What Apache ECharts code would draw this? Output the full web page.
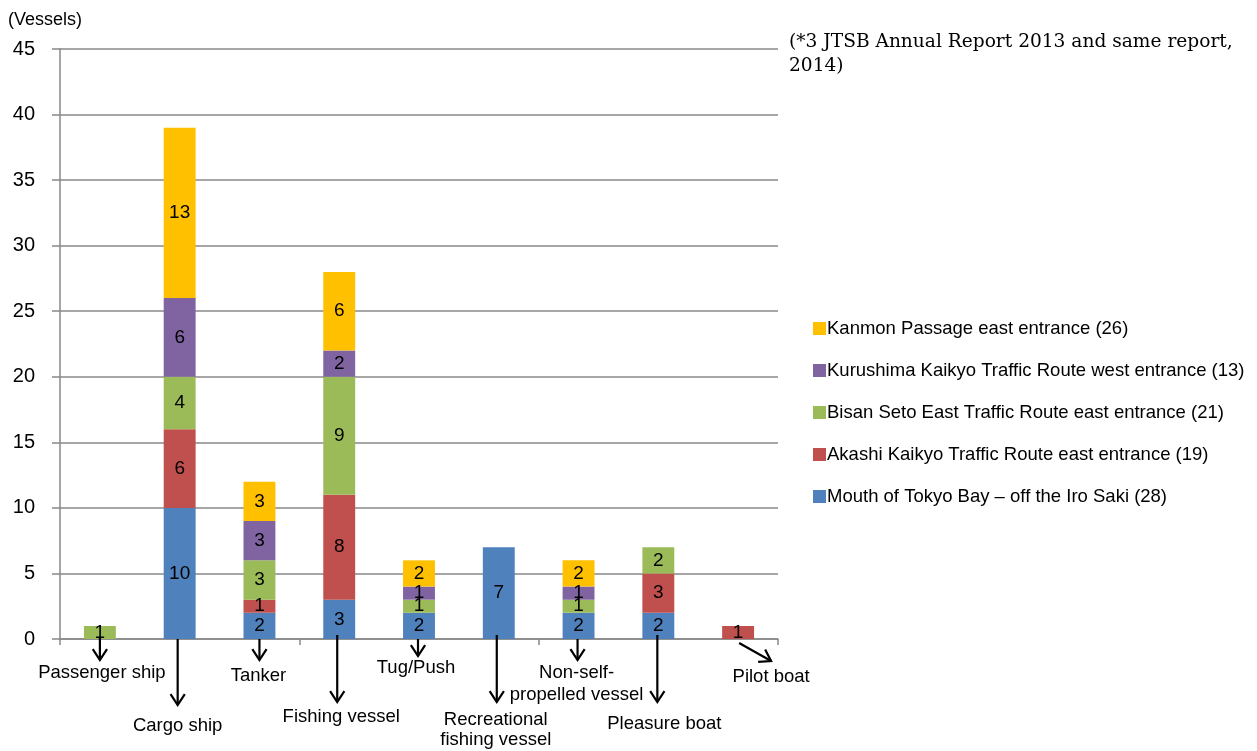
<!DOCTYPE html>
<html>
<head>
<meta charset="utf-8">
<script src="https://cdn.jsdelivr.net/npm/echarts@6/dist/echarts.min.js"></script>
<style>
html,body{margin:0;padding:0;background:#fff;}
#main{width:1257px;height:751px;}
</style>
</head>
<body>
<div id="main"></div>
<script>
// ---- data ----
const categories = ['Passenger ship','Cargo ship','Tanker','Fishing vessel','Tug/Push','Recreational fishing vessel','Non-self-propelled vessel','Pleasure boat','Pilot boat'];
const categoryLabels = ['Passenger ship','Cargo ship','Tanker','Fishing vessel','Tug/Push','Recreational\nfishing vessel','Non-self-\npropelled vessel','Pleasure boat','Pilot boat'];
const seriesNames = [
  'Mouth of Tokyo Bay \u2013 off the Iro Saki (28)',
  'Akashi Kaikyo Traffic Route east entrance (19)',
  'Bisan Seto East Traffic Route east entrance (21)',
  'Kurushima Kaikyo Traffic Route west entrance (13)',
  'Kanmon Passage east entrance (26)'
];
const tokyo     = [0, 10, 2, 3, 2, 7, 2, 2, 0];
const akashi    = [0,  6, 1, 8, 0, 0, 0, 3, 1];
const bisan     = [1,  4, 3, 9, 1, 0, 1, 2, 0];
const kurushima = [0,  6, 3, 2, 1, 0, 1, 0, 0];
const kanmon    = [0, 13, 3, 6, 2, 0, 2, 0, 0];
const yTicks = [0, 5, 10, 15, 20, 25, 30, 35, 40, 45];

// ---- styles / layout (not data) ----
const colors = ['#4F81BD', '#C0504D', '#9BBB59', '#8064A2', '#FFC000'];
// label offsets [dx, dy] and arrow [dx1, dy1, dx2, dy2] relative to category center / zero line
const labelLayout = [[2,34],[-2,87],[-1,37],[2,78],[-3,29],[-3,91],[-2,45],[6,85],[33,38]];
const arrowLayout = [[0,-1,0,21],[-2,0,-2,66],[0,0,0,21],[-2,-4,-2,63],[-1,0,-1,17],[-2,-4,-2,63],[-1,0,-1,21],[-1,-4,-1,63],[1,4,33,22]];
const lineHeights = [20,20,20,20,20,20,22,20,20];
const sans = 'Liberation Sans, Arial, sans-serif';

const allData = [tokyo, akashi, bisan, kurushima, kanmon];
const series = allData.map((d, i) => ({
  name: seriesNames[i],
  type: 'bar',
  stack: 'total',
  barWidth: '40%',
  data: d,
  itemStyle: { color: colors[i] },
  label: {
    show: true,
    position: 'inside',
    color: '#000',
    fontSize: 19,
    fontFamily: sans,
    formatter: p => (p.value > 0 ? String(p.value) : '')
  },
  emphasis: { disabled: true }
}));

const chart = echarts.init(document.getElementById('main'), null, { renderer: 'canvas' });
const option = {
  animation: false,
  backgroundColor: '#fff',
  title: [
    { text: '(Vessels)', left: 8, top: 11, padding: 0,
      textStyle: { fontSize: 18, fontWeight: 'normal', color: '#000', fontFamily: sans } },
    { text: '(*3 JTSB Annual Report 2013 and same report,\n2014)', left: 789, top: 30, padding: 0,
      textStyle: { fontSize: 18.6, fontWeight: 'normal', color: '#000', lineHeight: 24, fontFamily: 'DejaVu Serif, serif' } }
  ],
  legend: {
    orient: 'vertical',
    left: 808,
    top: 314,
    itemWidth: 13,
    itemHeight: 13,
    itemGap: 23,
    icon: 'rect',
    data: seriesNames.slice().reverse(),
    textStyle: { fontSize: 18.5, color: '#000', fontFamily: sans, padding: [0,0,0,-4] }
  },
  grid: { left: 60, right: 479, top: 49, bottom: 112, containLabel: false },
  xAxis: {
    type: 'category',
    data: categories,
    axisLine: { lineStyle: { color: '#888', width: 1.5 } },
    axisTick: { show: true, length: 6, lineStyle: { color: '#888', width: 1.5 } },
    axisLabel: { show: false }
  },
  yAxis: {
    type: 'value',
    min: 0, max: 45, interval: 5,
    axisLine: { show: true, lineStyle: { color: '#888', width: 1.5 } },
    axisTick: { show: true, length: 8, lineStyle: { color: '#888', width: 1.5 } },
    splitLine: { lineStyle: { color: '#888', width: 1.5 } },
    axisLabel: {
      color: '#000', fontSize: 20, margin: 25,
      fontFamily: sans,
      formatter: v => (yTicks.indexOf(v) >= 0 ? String(v) : '')
    }
  },
  series: series
};
chart.setOption(option);

// ---- category labels with arrows, positioned through the axis scale ----
const y0 = chart.convertToPixel({ yAxisIndex: 0 }, 0);
const graphics = [];
categories.forEach((c, i) => {
  const cx = chart.convertToPixel({ xAxisIndex: 0 }, c);
  const [ldx, ldy] = labelLayout[i];
  graphics.push({
    type: 'text', silent: true,
    style: {
      text: categoryLabels[i], x: cx + ldx, y: y0 + ldy,
      align: 'center', verticalAlign: 'middle',
      fontSize: 18.5, lineHeight: lineHeights[i], fill: '#000',
      fontFamily: sans
    },
    z: 100
  });
  const [a1, b1, a2, b2] = arrowLayout[i];
  const x1 = cx + a1, yy1 = y0 + b1, x2 = cx + a2, yy2 = y0 + b2;
  graphics.push({
    type: 'line', silent: true,
    shape: { x1: x1, y1: yy1, x2: x2, y2: yy2 },
    style: { stroke: '#000', lineWidth: 2.2 }, z: 100
  });
  const ang = Math.atan2(yy2 - yy1, x2 - x1);
  const hl = 13, ha = 0.58;
  const p1 = [x2 - hl * Math.cos(ang - ha), yy2 - hl * Math.sin(ang - ha)];
  const p2 = [x2 - hl * Math.cos(ang + ha), yy2 - hl * Math.sin(ang + ha)];
  graphics.push({
    type: 'polyline', silent: true,
    shape: { points: [p1, [x2, yy2], p2] },
    style: { stroke: '#000', lineWidth: 2.2, fill: null }, z: 100
  });
});
chart.setOption({ graphic: graphics });
</script>
</body>
</html>
